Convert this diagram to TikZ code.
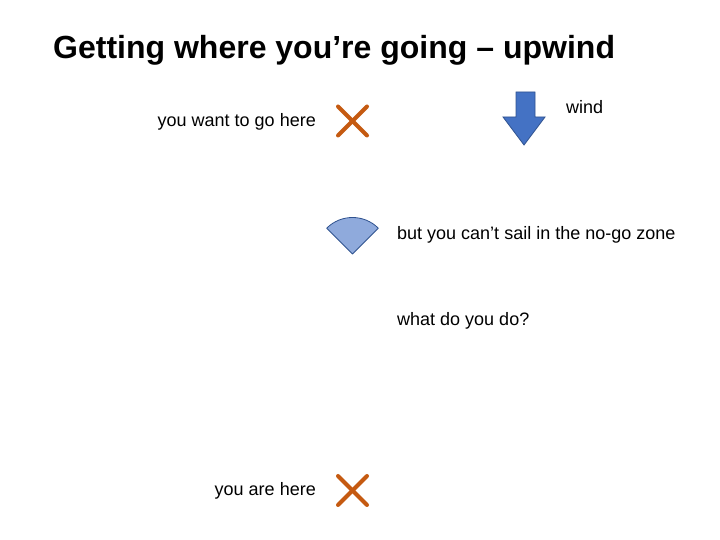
\documentclass[tikz,border=0pt]{standalone}
\usepackage{fontspec}
\setmainfont{Liberation Sans}
\usetikzlibrary{calc}
\definecolor{xmark}{HTML}{C55A11}
\definecolor{arrowfill}{HTML}{4472C4}
\definecolor{shapeborder}{HTML}{2F528F}
\definecolor{sectorfill}{HTML}{8FAADC}
\tikzset{
  lbl/.style={inner sep=0pt, font=\fontsize{18}{21}\selectfont},
  ttl/.style={inner sep=0pt, font=\fontsize{32}{38}\selectfont\bfseries},
  xline/.style={draw=xmark, line width=4pt, line cap=round},
  bluebody/.style={fill=arrowfill, draw=shapeborder, line width=0.8pt, line join=miter},
  sector/.style={fill=sectorfill, draw=shapeborder, line width=0.8pt, line join=round}
}
\begin{document}
\begin{tikzpicture}[x=1pt,y=1pt]
\useasboundingbox (0,0) rectangle (720,540);
% title
\node[ttl, anchor=base west] (title) at (53,481) {Getting where you’re going – upwind};
% labels
\node[lbl, anchor=base east] (goal) at (316,413.5) {you want to go here};
\node[lbl, anchor=base west] (wind) at (566,426) {wind};
\node[lbl, anchor=base west] (nogo) at (397,300.7) {but you can’t sail in the no-go zone};
\node[lbl, anchor=base west] (what) at (397,214) {what do you do?};
\node[lbl, anchor=base east] (here) at (316,44.3) {you are here};
% X marks
\coordinate (xtop) at (352.5,419);
\coordinate (xbot) at (352.5,49.5);
\foreach \c in {xtop,xbot}{
  \draw[xline] ($(\c)+(-14.5,-14.5)$) -- ($(\c)+(14.5,14.5)$);
  \draw[xline] ($(\c)+(-14.5,14.5)$) -- ($(\c)+(14.5,-14.5)$);
}
% wind arrow
\draw[bluebody] (516,448) -- (535,448) -- (535,423) -- (545,423) -- (524,395) -- (503,423) -- (516,423) -- cycle;
% no-go sector
\coordinate (tip) at (352.5,286);
\draw[sector] (tip) -- ++(45:36.5) arc[start angle=45, end angle=135, radius=36.5] -- cycle;
\end{tikzpicture}
\end{document}
